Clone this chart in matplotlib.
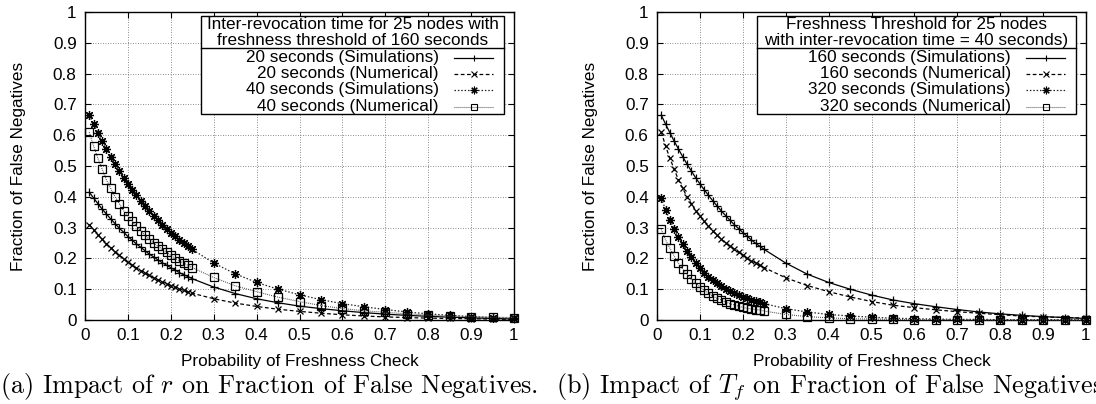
import matplotlib
matplotlib.use("Agg")
import matplotlib.pyplot as plt
from matplotlib.patches import Rectangle

plt.rcParams['font.family'] = ['Liberation Sans', 'DejaVu Sans']
plt.rcParams['mathtext.fontset'] = 'cm'

# probability of freshness check
x = [0.01, 0.02, 0.03, 0.04, 0.05, 0.06, 0.07, 0.08, 0.09, 0.10,
     0.11, 0.12, 0.13, 0.14, 0.15, 0.16, 0.17, 0.18, 0.19, 0.20,
     0.21, 0.22, 0.23, 0.24, 0.25,
     0.30, 0.35, 0.40, 0.45, 0.50, 0.55, 0.60, 0.65, 0.70, 0.75,
     0.80, 0.85, 0.90, 0.95, 1.00]

# (a) inter-revocation time, freshness threshold 160 s
sim20 = [0.415, 0.396, 0.378, 0.360, 0.344, 0.328, 0.313, 0.298, 0.285, 0.271,
         0.259, 0.247, 0.236, 0.225, 0.214, 0.205, 0.195, 0.186, 0.178, 0.170,
         0.162, 0.154, 0.147, 0.141, 0.134,
         0.107, 0.086, 0.069, 0.056, 0.045, 0.037, 0.030, 0.024, 0.019, 0.015,
         0.012, 0.009, 0.007, 0.005, 0.003]
num20 = [0.310, 0.293, 0.277, 0.262, 0.248, 0.235, 0.222, 0.210, 0.198, 0.187,
         0.178, 0.169, 0.160, 0.152, 0.145, 0.137, 0.130, 0.124, 0.118, 0.112,
         0.106, 0.101, 0.096, 0.091, 0.087,
         0.069, 0.055, 0.044, 0.035, 0.028, 0.022, 0.017, 0.013, 0.010, 0.008,
         0.006, 0.005, 0.004, 0.003, 0.002]
sim40 = [0.665, 0.636, 0.608, 0.581, 0.555, 0.530, 0.506, 0.484, 0.462, 0.442,
         0.423, 0.405, 0.387, 0.370, 0.354, 0.339, 0.324, 0.310, 0.297, 0.284,
         0.272, 0.260, 0.249, 0.239, 0.229,
         0.185, 0.150, 0.122, 0.100, 0.082, 0.066, 0.053, 0.043, 0.034, 0.026,
         0.020, 0.015, 0.011, 0.008, 0.005]
num40 = [0.610, 0.565, 0.525, 0.490, 0.455, 0.427, 0.400, 0.378, 0.355, 0.337,
         0.320, 0.305, 0.290, 0.275, 0.262, 0.250, 0.240, 0.230, 0.220, 0.210,
         0.200, 0.192, 0.185, 0.177, 0.170,
         0.138, 0.111, 0.092, 0.074, 0.060, 0.047, 0.037, 0.030, 0.025, 0.020,
         0.016, 0.013, 0.011, 0.009, 0.008]

# (b) freshness threshold, inter-revocation time 40 s
sim160 = [0.665, 0.636, 0.608, 0.581, 0.555, 0.530, 0.506, 0.484, 0.462, 0.442,
          0.423, 0.405, 0.387, 0.370, 0.354, 0.339, 0.324, 0.310, 0.297, 0.284,
          0.272, 0.260, 0.249, 0.239, 0.229,
          0.185, 0.149, 0.122, 0.100, 0.081, 0.065, 0.053, 0.043, 0.034, 0.026,
          0.020, 0.015, 0.011, 0.008, 0.005]
num160 = [0.610, 0.565, 0.525, 0.490, 0.455, 0.427, 0.400, 0.378, 0.355, 0.337,
          0.320, 0.305, 0.290, 0.275, 0.262, 0.250, 0.240, 0.230, 0.220, 0.210,
          0.200, 0.192, 0.185, 0.177, 0.170,
          0.137, 0.112, 0.092, 0.075, 0.060, 0.048, 0.040, 0.033, 0.027, 0.022,
          0.017, 0.013, 0.010, 0.008, 0.006]
sim320 = [0.395, 0.358, 0.325, 0.295, 0.270, 0.246, 0.224, 0.203, 0.186, 0.170,
          0.154, 0.141, 0.129, 0.119, 0.110, 0.102, 0.094, 0.087, 0.081, 0.076,
          0.071, 0.066, 0.061, 0.057, 0.053,
          0.037, 0.026, 0.018, 0.013, 0.009, 0.006, 0.004, 0.003, 0.002, 0.002,
          0.001, 0.001, 0.001, 0.001, 0.001]
num320 = [0.294, 0.260, 0.233, 0.208, 0.184, 0.165, 0.148, 0.132, 0.119, 0.108,
          0.097, 0.087, 0.078, 0.070, 0.065, 0.058, 0.053, 0.049, 0.045, 0.041,
          0.038, 0.036, 0.034, 0.032, 0.029,
          0.018, 0.011, 0.007, 0.004, 0.003, 0.002, 0.001, 0.001, 0.001, 0.000,
          0.000, 0.000, 0.000, 0.000, 0.000]

ticks = [0, 0.1, 0.2, 0.3, 0.4, 0.5, 0.6, 0.7, 0.8, 0.9, 1]
tick_labels = ['0', '0.1', '0.2', '0.3', '0.4', '0.5', '0.6', '0.7', '0.8', '0.9', '1']

titles_a = ['Inter-revocation time for 25 nodes with', 'freshness threshold of 160 seconds']
labels_a = ['20 seconds (Simulations)', '20 seconds (Numerical)',
            '40 seconds (Simulations)', '40 seconds (Numerical)']
titles_b = ['Freshness Threshold for 25 nodes', 'with inter-revocation time = 40 seconds)']
labels_b = ['160 seconds (Simulations)', '160 seconds (Numerical)',
            '320 seconds (Simulations)', '320 seconds (Numerical)']

# gnuplot-ish styles: line style, marker, marker size, line colour
styles = [
    dict(ls='-', marker='+', ms=6, lw=0.9, color='black'),
    dict(ls=(0, (3, 2)), marker='x', ms=5, lw=0.9, color='black'),
    dict(ls=(0, (1.2, 1.5)), marker=(8, 2, 0), ms=6.5, lw=0.9, color='#222222'),
    dict(ls=(0, (0.8, 1.0)), marker='s', ms=5.5, lw=0.8, color='#444444'),
]

FS = 12.3
W, H = 1096, 404
fig = plt.figure(figsize=(W / 100, H / 100), dpi=100)


def panel(left_px, series, titles, labels, box_left):
    ax = fig.add_axes([left_px / W, 84 / H, 429 / W, 308 / H])
    for ys, st in zip(series, styles):
        fill = 'none' if st['marker'] == 's' else 'full'
        ax.plot(x, ys, linestyle=st['ls'], lw=st['lw'], color=st['color'],
                marker=st['marker'], ms=st['ms'], mew=0.9, mec='black',
                fillstyle=fill, clip_on=False, zorder=3)
    ax.set_xlim(0, 1)
    ax.set_ylim(0, 1)
    ax.set_xticks(ticks)
    ax.set_xticklabels(tick_labels)
    ax.set_yticks(ticks)
    ax.set_yticklabels(tick_labels)
    ax.tick_params(direction='in', length=4, width=0.8, top=True, right=True,
                   labelsize=FS, pad=6)
    ax.grid(True, color='0.4', lw=0.6, linestyle=(0, (1, 2)))
    for s in ax.spines.values():
        s.set_linewidth(1.0)
    ax.set_xlabel('Probability of Freshness Check', fontsize=FS, va='center')
    ax.xaxis.set_label_coords(0.5, -0.136)
    ax.set_ylabel('Fraction of False Negatives', fontsize=FS, va='center')
    ax.yaxis.set_label_coords(-0.155, 0.5)

    # legend box drawn by hand (title, separator, entries with samples on right)
    box_right, box_top, box_bot, sep = 0.977, 0.988, 0.670, 0.883
    ax.add_patch(Rectangle((box_left, box_bot), box_right - box_left, box_top - box_bot,
                           transform=ax.transAxes, facecolor='white', edgecolor='black',
                           lw=1.0, zorder=5, clip_on=False))
    ax.plot([box_left, box_right], [sep, sep], color='black', lw=1.0,
            transform=ax.transAxes, zorder=6, clip_on=False)
    cx = (box_left + box_right) / 2
    for t, ty in zip(titles, [0.960, 0.906]):
        ax.text(cx, ty, t, transform=ax.transAxes, ha='center', va='center',
                fontsize=FS, zorder=7)
    for lab, st, ry in zip(labels, styles, [0.852, 0.800, 0.748, 0.693]):
        ax.text(0.825, ry, lab, transform=ax.transAxes, ha='right', va='center',
                fontsize=FS, zorder=7)
        ax.plot([0.860, 0.952], [ry, ry], linestyle=st['ls'], lw=st['lw'],
                color=st['color'], transform=ax.transAxes, zorder=7, clip_on=False)
        fill = 'none' if st['marker'] == 's' else 'full'
        ax.plot([0.906], [ry], linestyle='none', marker=st['marker'], ms=st['ms'] - 1,
                mew=0.8, mec='black', fillstyle=fill, color='black',
                transform=ax.transAxes, zorder=8, clip_on=False)
    return ax


panel(85, [sim20, num20, sim40, num40], titles_a, labels_a, 0.270)
panel(657, [sim160, num160, sim320, num320], titles_b, labels_b, 0.232)

fig.text(0 / W, (H - 393) / H, '(a) Impact of $r$ on Fraction of False Negatives.',
         family='cmr10', fontsize=18.8, va='baseline', ha='left')
fig.text(556 / W, (H - 393) / H, '(b) Impact of $T_f$ on Fraction of False Negatives.',
         family='cmr10', fontsize=18.8, va='baseline', ha='left')

fig.savefig('out.png', dpi=100)
